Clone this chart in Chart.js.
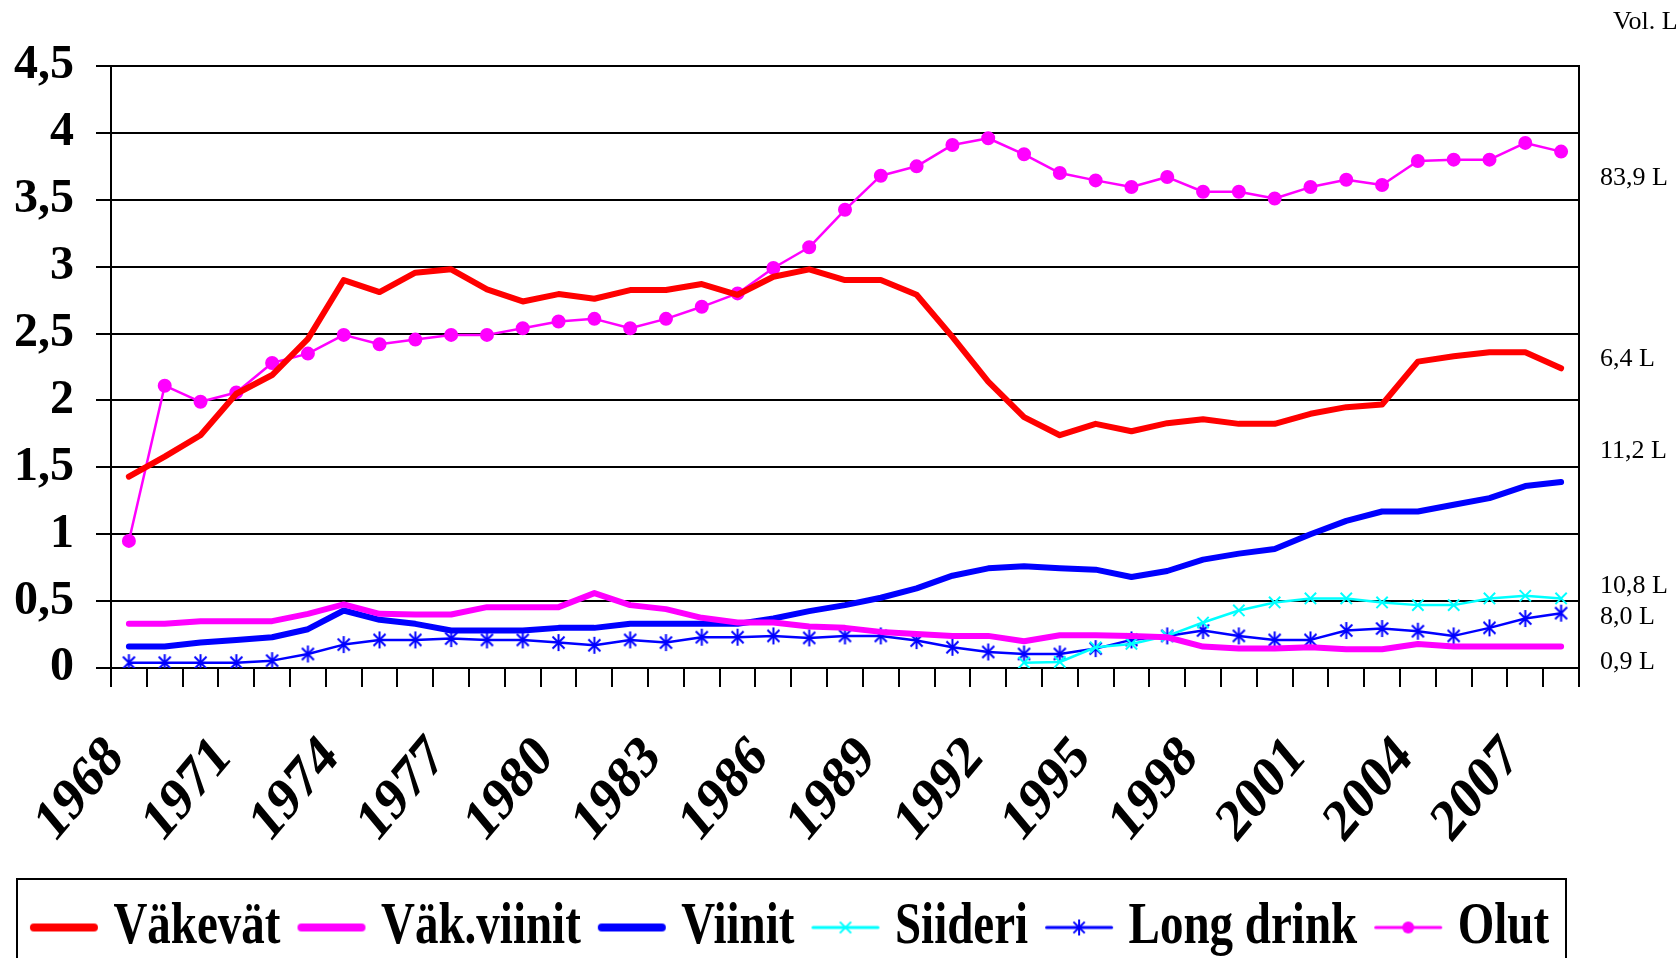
<!DOCTYPE html>
<html><head><meta charset="utf-8">
<script src="https://cdn.jsdelivr.net/npm/chart.js@4.4.0/dist/chart.umd.min.js"></script>
<style>html,body{margin:0;padding:0;background:#fff;overflow:hidden;}</style>
</head><body>
<canvas id="c" width="1677" height="958"></canvas>
<script>
const years = ["1968","1969","1970","1971","1972","1973","1974","1975","1976","1977","1978","1979","1980","1981","1982","1983","1984","1985","1986","1987","1988","1989","1990","1991","1992","1993","1994","1995","1996","1997","1998","1999","2000","2001","2002","2003","2004","2005","2006","2007","2008"];

const vakevat = [1.43,1.58,1.74,2.05,2.19,2.46,2.90,2.81,2.955,2.98,2.83,2.74,2.795,2.76,
  2.825,2.825,2.87,2.79,2.925,2.98,2.90,2.90,2.79,2.475,2.14,1.875,1.74,1.825,
  1.77,1.83,1.86,1.825,1.825,1.90,1.95,1.97,2.29,2.33,2.36,2.36,2.24];
const vakViinit = [0.33,0.33,0.35,0.35,0.35,0.405,0.475,0.405,0.40,0.40,0.455,0.455,0.455,0.56,
  0.47,0.44,0.375,0.34,0.34,0.31,0.30,0.27,0.255,0.24,0.24,0.20,0.245,0.245,
  0.24,0.23,0.16,0.145,0.145,0.155,0.14,0.14,0.18,0.16,0.16,0.16,0.16];
const viinit = [0.16,0.16,0.19,0.21,0.23,0.29,0.43,0.36,0.33,0.28,0.28,0.28,0.30,0.30,
  0.33,0.33,0.33,0.33,0.37,0.425,0.47,0.525,0.595,0.69,0.745,0.76,0.745,0.735,
  0.68,0.725,0.81,0.855,0.89,1.0,1.10,1.17,1.17,1.22,1.27,1.36,1.39];
const siideri = [null,null,null,null,null,null,null,null,null,null,null,null,null,null,
  null,null,null,null,null,null,null,null,null,null,null,0.04,0.045,0.155,
  0.18,0.24,0.34,0.43,0.49,0.52,0.52,0.49,0.47,0.47,0.52,0.54,0.52];
const longDrink = [0.04,0.04,0.04,0.04,0.055,0.105,0.175,0.21,0.21,0.22,0.21,0.21,0.19,0.17,
  0.21,0.19,0.23,0.23,0.24,0.225,0.24,0.24,0.205,0.155,0.12,0.105,0.105,0.145,
  0.21,0.24,0.28,0.24,0.21,0.21,0.28,0.295,0.275,0.24,0.30,0.37,0.41];
const olut = [0.95,2.11,1.99,2.06,2.28,2.35,2.49,2.42,2.455,2.49,2.49,2.54,2.59,2.61,
  2.54,2.61,2.70,2.80,2.99,3.145,3.425,3.68,3.75,3.91,3.96,3.84,3.70,3.645,
  3.595,3.67,3.56,3.56,3.51,3.595,3.65,3.61,3.79,3.80,3.80,3.925,3.86];

const rightLabels = ["83,9 L","6,4 L","11,2 L","10,8 L","8,0 L","0,9 L"];
const rightLabelValues = [3.66, 2.31, 1.62, 0.61, 0.38, 0.04];
const unitLabel = "Vol. L";
const unitLabelValue = 4.83;

const SERIF = '"Liberation Serif", "Times New Roman", serif';
const RED = '#FF0000', MAG = '#FF00FF', BLUE = '#0000FF', CYAN = '#00FFFF';

function drawMarker(g, style, cx, cy, r) {
  g.lineWidth = 2; g.lineCap = 'butt';
  if (style === 'crossRot' || style === 'star') {
    const d = r * Math.SQRT1_2;
    g.beginPath();
    g.moveTo(cx - d, cy - d); g.lineTo(cx + d, cy + d);
    g.moveTo(cx - d, cy + d); g.lineTo(cx + d, cy - d);
    if (style === 'star') { g.moveTo(cx, cy - r); g.lineTo(cx, cy + r); }
    g.stroke();
  } else if (style === 'circle') {
    g.beginPath(); g.arc(cx, cy, r, 0, Math.PI * 2); g.fill();
  }
}
function legendImg(color, lw, style, r) {
  const c = document.createElement('canvas');
  c.width = 70; c.height = 26;
  const g = c.getContext('2d');
  g.strokeStyle = color; g.fillStyle = color; g.lineWidth = lw; g.lineCap = 'round';
  g.beginPath(); g.moveTo(lw / 2 + 1, 13); g.lineTo(70 - lw / 2 - 1, 13); g.stroke();
  if (style) drawMarker(g, style, 35, 13, r);
  return c;
}
function markerImg(color, style, r) {
  const s = Math.ceil(2 * r + 4);
  const c = document.createElement('canvas');
  c.width = s; c.height = s;
  const g = c.getContext('2d');
  g.strokeStyle = color; g.fillStyle = color;
  drawMarker(g, style, s / 2, s / 2, r);
  return c;
}
const asteriskMarker = markerImg(BLUE, 'star', 8.5);

const legendImgs = [
  legendImg(RED, 8, null, 0),
  legendImg(MAG, 8, null, 0),
  legendImg(BLUE, 8, null, 0),
  legendImg(CYAN, 3, 'crossRot', 8),
  legendImg(BLUE, 3, 'star', 8),
  legendImg(MAG, 3, 'circle', 6)
];

// stretch text vertically (screen space) about its anchor, like the tall glyphs of the original
function wrapText(obj, method, chart, sy) {
  if (!obj || obj['_w_' + method]) return;
  const orig = obj[method].bind(obj);
  obj[method] = function (...args) {
    const ctx = chart.ctx;
    const f = CanvasRenderingContext2D.prototype.fillText;
    ctx.fillText = function (t, x, y, mw) {
      const m = this.getTransform();
      const p = m.transformPoint(new DOMPoint(x, y));
      const S = new DOMMatrix().translate(p.x, p.y).scale(1, sy).translate(-p.x, -p.y);
      this.save();
      this.setTransform(S.multiply(m));
      f.call(this, t, x, y);
      this.restore();
    };
    try { return orig(...args); } finally { delete ctx.fillText; }
  };
  obj['_w_' + method] = true;
}

const tallText = {
  id: 'tallText',
  afterLayout(chart) {
    wrapText(chart.legend, 'draw', chart, 1.27);
    wrapText(chart.scales.x, 'drawLabels', chart, 1.2);
  }
};

const annot = {
  id: 'annot',
  afterDraw(chart) {
    const ctx = chart.ctx, y = chart.scales.y, lg = chart.legend;
    ctx.save();
    ctx.strokeStyle = '#000'; ctx.lineWidth = 2;
    ctx.strokeRect(17, lg.top, 1549, 200);
    ctx.fillStyle = '#000';
    ctx.font = '26px ' + SERIF;
    ctx.textBaseline = 'middle'; ctx.textAlign = 'left';
    const x0 = chart.chartArea.right + 21;
    rightLabels.forEach((t, i) => ctx.fillText(t, x0, y.getPixelForValue(rightLabelValues[i])));
    ctx.fillText(unitLabel, x0 + 13, y.getPixelForValue(unitLabelValue));
    ctx.restore();
  }
};

const thick = (label, data, color) => ({
  label, data, borderColor: color, backgroundColor: color, borderWidth: 6,
  pointRadius: 0, tension: 0, borderCapStyle: 'round', borderJoinStyle: 'round', spanGaps: false
});
const thin = (label, data, color, style, r) => ({
  label, data, borderColor: color, backgroundColor: color, borderWidth: 2.5,
  pointStyle: style, pointRadius: r, pointBorderWidth: 2, pointBorderColor: color,
  pointBackgroundColor: color, tension: 0, borderJoinStyle: 'round'
});

const PAD_L = -13, PAD_R = 77, PAD_B = -3;

new Chart(document.getElementById('c'), {
  type: 'line',
  data: {
    labels: years,
    datasets: [
      thick('Väkevät', vakevat, RED),
      thick('Väk.viinit', vakViinit, MAG),
      thick('Viinit', viinit, BLUE),
      thin('Siideri', siideri, CYAN, 'crossRot', 8),
      thin('Long drink', longDrink, BLUE, asteriskMarker, 8),
      thin('Olut', olut, MAG, 'circle', 6)
    ]
  },
  options: {
    responsive: false, animation: false, events: [],
    layout: { padding: { top: 66, right: PAD_R, left: PAD_L, bottom: PAD_B } },
    scales: {
      x: {
        offset: true,
        grid: { offset: true, drawOnChartArea: false, drawTicks: true, tickLength: 19, color: '#000', lineWidth: 2 },
        border: { display: true, color: '#000', width: 2 },
        ticks: {
          autoSkip: false, maxRotation: 45, minRotation: 45, padding: 40, labelOffset: -13,
          color: '#000', font: { family: SERIF, size: 50, weight: 'bold' },
          callback: (v, i) => (i % 3 === 0 ? years[i] : '')
        },
        afterFit: s => { s.height = (958 - PAD_B) - 668 - (s.chart.legend ? s.chart.legend.height : 0); }
      },
      y: {
        min: 0, max: 4.5,
        ticks: { stepSize: 0.5, padding: 22, color: '#000', font: { family: SERIF, size: 48, weight: 'bold' },
          callback: v => String(v).replace('.', ',') },
        grid: { color: '#000', lineWidth: 2, tickLength: 15, drawTicks: true },
        border: { color: '#000', width: 2 },
        afterFit: s => { s.width = 111 - PAD_L; }
      },
      y2: {
        position: 'right', min: 0, max: 4.5,
        ticks: { display: false },
        grid: { drawOnChartArea: false, drawTicks: false },
        border: { color: '#000', width: 2 },
        afterFit: s => { s.width = 1677 - PAD_R - 1579; }
      }
    },
    plugins: {
      tooltip: { enabled: false },
      legend: {
        position: 'bottom', align: 'center',
        labels: {
          usePointStyle: true, pointStyleWidth: 52, padding: 25, color: '#000',
          font: { family: SERIF, size: 47, weight: 'bold' },
          generateLabels: chart => {
            const items = Chart.defaults.plugins.legend.labels.generateLabels(chart);
            items.forEach((it, i) => { it.pointStyle = legendImgs[i]; });
            return items;
          }
        }
      }
    }
  },
  plugins: [tallText, annot]
});
</script>
</body></html>
